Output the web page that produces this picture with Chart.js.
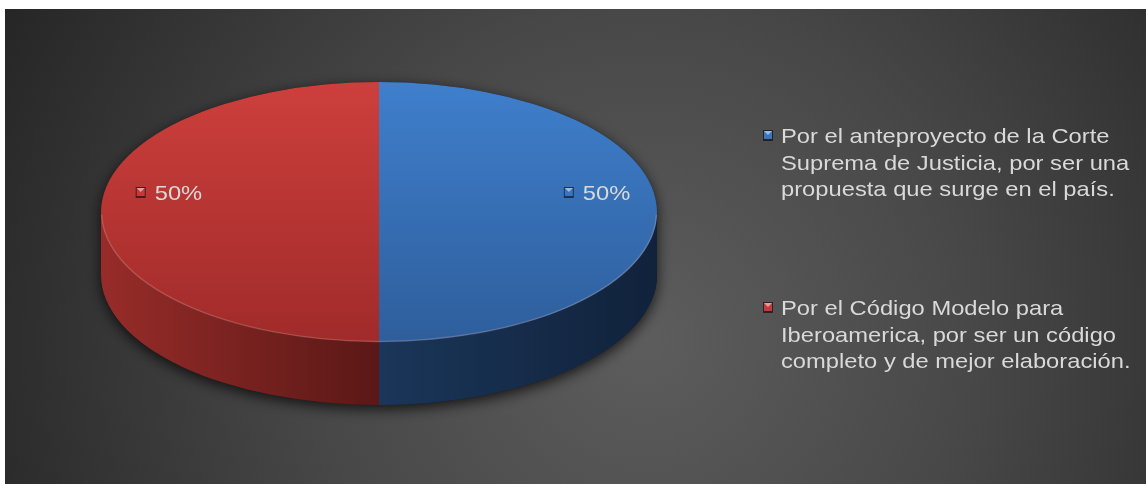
<!DOCTYPE html>
<html lang="es">
<head>
<meta charset="UTF-8">
<title>Preferencia de código</title>
<script src="https://cdn.jsdelivr.net/npm/chart.js"></script>
<style>
  html, body { margin: 0; background: #fff; }
  #wrap { position: absolute; left: 5px; top: 9px; width: 1141px; height: 475px; }
</style>
</head>
<body>
<div id="wrap"><canvas id="pie"></canvas></div>
<script>
// datos
const categorias = [
  'Por el anteproyecto de la Corte Suprema de Justicia, por ser una propuesta que surge en el país.',
  'Por el Código Modelo para Iberoamerica, por ser un código completo y de mejor elaboración.'
];
const valores = [50, 50];

// estilo
const topColors = [['#3f7fcc', '#2e5e9c'], ['#cd3f3c', '#a02b2a']];
const sideColors = [['#1a3659', '#11223b'], ['#972c29', '#5a1816']];
const markerColors = ['#3a73be', '#c43a3a'];
const TILT = 130 / 278;
const LABEL_R = 0.77, LABEL_UP = 19, LABEL_DX = 4;
const FONT = '21px "Liberation Sans", Arial, sans-serif';
const STRETCH = 1.13;
const TXT = '#d9d9d9';

const geo = (chart) => {
  const a = chart.chartArea;
  const rx = a.width / 2, ry = rx * TILT;
  return { cx: (a.left + a.right) / 2, cy: a.top + ry, rx, ry, depth: a.height - 2 * ry };
};

const topGradient = (c) => {
  const chart = c.chart, a = chart.chartArea;
  const i = c.dataIndex;
  if (!a || i === undefined) return topColors[i || 0][0];
  const cy = (a.top + a.bottom) / 2, R = Math.min(a.width, a.height) / 2;
  const g = chart.ctx.createLinearGradient(0, cy - R, 0, cy + R);
  g.addColorStop(0, topColors[i][0]);
  g.addColorStop(1, topColors[i][1]);
  return g;
};

const drawMarker = (ctx, x, y, col) => {
  ctx.fillStyle = 'rgba(0,0,0,0.55)';
  ctx.fillRect(x, y, 10, 11);
  ctx.fillStyle = col;
  ctx.fillRect(x + 1, y + 1, 8, 8);
  ctx.fillStyle = 'rgba(255,255,255,0.5)';
  ctx.beginPath();
  ctx.moveTo(x + 1, y + 1); ctx.lineTo(x + 9, y + 1); ctx.lineTo(x + 5, y + 5);
  ctx.closePath(); ctx.fill();
};

const drawText = (ctx, t, x, y) => {
  ctx.save();
  ctx.translate(x, y);
  ctx.scale(STRETCH, 1);
  ctx.fillText(t, 0, 0);
  ctx.restore();
};

const wrapText = (ctx, text, maxW) => {
  const lines = [];
  let cur = '';
  text.split(' ').forEach(w => {
    const t = cur ? cur + ' ' + w : w;
    if (ctx.measureText(t).width * STRETCH > maxW && cur) { lines.push(cur); cur = w; }
    else cur = t;
  });
  if (cur) lines.push(cur);
  return lines;
};

const pie3d = {
  id: 'pie3d',
  beforeDraw(chart) {
    const ctx = chart.ctx, w = chart.width, h = chart.height;
    const bg = ctx.createRadialGradient(640, 330, 0, 640, 330, 720);
    bg.addColorStop(0, '#5d5d5d');
    bg.addColorStop(0.45, '#484848');
    bg.addColorStop(1, '#262626');
    ctx.fillStyle = bg;
    ctx.fillRect(0, 0, w, h);
  },
  beforeDatasetsDraw(chart) {
    const ctx = chart.ctx, g = geo(chart);
    const arcs = chart.getDatasetMeta(0).data;

    // sombra
    ctx.save();
    ctx.shadowColor = 'rgba(0,0,0,0.75)';
    ctx.shadowBlur = 14;
    ctx.shadowOffsetY = 4;
    ctx.fillStyle = '#1b1b1b';
    ctx.beginPath();
    ctx.ellipse(g.cx, g.cy + g.depth, g.rx, g.ry, 0, 0, Math.PI);
    ctx.ellipse(g.cx, g.cy, g.rx, g.ry, 0, Math.PI, 2 * Math.PI);
    ctx.closePath();
    ctx.fill();
    ctx.restore();

    // lados
    arcs.forEach((arc, i) => {
      const { startAngle, endAngle } = arc.getProps(['startAngle', 'endAngle']);
      [-2 * Math.PI, 0, 2 * Math.PI].forEach(s => {
        const a0 = Math.max(startAngle + s, 0), a1 = Math.min(endAngle + s, Math.PI);
        if (a1 <= a0) return;
        const x0 = g.cx + Math.cos(a0) * g.rx, x1 = g.cx + Math.cos(a1) * g.rx;
        const gr = ctx.createLinearGradient(Math.min(x0, x1), 0, Math.max(x0, x1), 0);
        gr.addColorStop(0, sideColors[i][0]);
        gr.addColorStop(1, sideColors[i][1]);
        ctx.fillStyle = gr;
        ctx.beginPath();
        ctx.ellipse(g.cx, g.cy, g.rx, g.ry, 0, a0, a1);
        ctx.ellipse(g.cx, g.cy + g.depth, g.rx, g.ry, 0, a1, a0, true);
        ctx.closePath();
        ctx.fill();
      });
    });

    // aplastar la tarta para la cara superior
    const arc = arcs[0], R = arc.outerRadius;
    ctx.save();
    ctx.translate(g.cx, g.cy);
    ctx.scale(g.rx / R, g.ry / R);
    ctx.translate(-arc.x, -arc.y);
  },
  afterDatasetsDraw(chart) {
    const ctx = chart.ctx, g = geo(chart);
    ctx.restore();
    const arcs = chart.getDatasetMeta(0).data;

    // brillo del borde
    ctx.save();
    ctx.strokeStyle = 'rgba(255,210,200,0.22)';
    ctx.lineWidth = 1.5;
    ctx.beginPath();
    ctx.ellipse(g.cx, g.cy, g.rx - 0.5, g.ry - 0.5, 0, 0.02, Math.PI - 0.02);
    ctx.stroke();
    ctx.restore();

    // etiquetas
    const total = valores.reduce((s, v) => s + v, 0);
    ctx.save();
    ctx.font = FONT;
    ctx.textBaseline = 'middle';
    arcs.forEach((arc, i) => {
      const { startAngle, endAngle } = arc.getProps(['startAngle', 'endAngle']);
      const mid = (startAngle + endAngle) / 2;
      const px = g.cx + Math.cos(mid) * g.rx * LABEL_R + LABEL_DX;
      const py = g.cy + Math.sin(mid) * g.ry * LABEL_R - LABEL_UP;
      const txt = Math.round(valores[i] / total * 100) + '%';
      const tw = ctx.measureText(txt).width * STRETCH;
      const x0 = px - (10 + 9 + tw) / 2;
      drawMarker(ctx, x0, py - 6, markerColors[i]);
      ctx.fillStyle = TXT;
      drawText(ctx, txt, x0 + 19, py + 1);
    });
    ctx.restore();

    // leyenda
    ctx.save();
    ctx.font = FONT;
    ctx.textBaseline = 'alphabetic';
    const lx = 758, tx = 776, maxW = chart.width - tx - 2;
    categorias.forEach((c, i) => {
      const y0 = 134 + i * 172;
      drawMarker(ctx, lx, y0 - 13, markerColors[i]);
      ctx.fillStyle = TXT;
      wrapText(ctx, c, maxW).forEach((ln, k) => drawText(ctx, ln, tx, y0 + k * 26.5));
    });
    ctx.restore();
  }
};

new Chart(document.getElementById('pie'), {
  type: 'pie',
  data: {
    labels: categorias,
    datasets: [{
      data: valores,
      backgroundColor: topGradient,
      borderWidth: 0
    }]
  },
  options: {
    responsive: true,
    maintainAspectRatio: false,
    animation: false,
    events: [],
    layout: { padding: { left: 96, right: 489, top: 73, bottom: 79 } },
    plugins: { legend: { display: false }, tooltip: { enabled: false } }
  },
  plugins: [pie3d]
});
</script>
</body>
</html>
